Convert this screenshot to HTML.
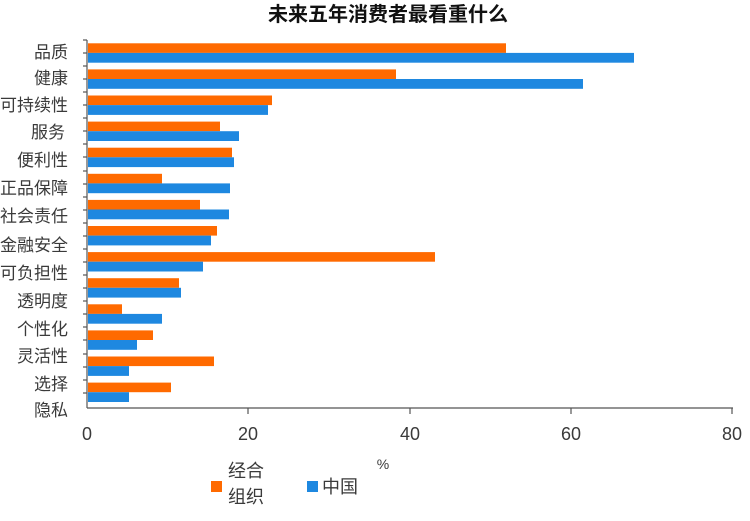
<!DOCTYPE html>
<html><head><meta charset="utf-8"><style>
html,body{margin:0;padding:0;background:#fff;}
svg{display:block;}
text{font-family:"Liberation Sans","Noto Sans CJK SC",sans-serif;fill:#3a3a3a;}
</style></head><body>
<svg width="750" height="521" viewBox="0 0 750 521" xmlns="http://www.w3.org/2000/svg">
<text x="388" y="21" text-anchor="middle" font-size="20" font-weight="bold" style="fill:#111">未来五年消费者最看重什么</text>
<g fill="#FF6A00">
<rect x="88" y="43.3" width="418" height="9.6"/>
<rect x="88" y="69.4" width="308" height="9.6"/>
<rect x="88" y="95.5" width="184" height="9.6"/>
<rect x="88" y="121.6" width="132" height="9.6"/>
<rect x="88" y="147.7" width="144" height="9.6"/>
<rect x="88" y="173.8" width="74" height="9.6"/>
<rect x="88" y="199.9" width="112" height="9.6"/>
<rect x="88" y="226.0" width="129" height="9.6"/>
<rect x="88" y="252.1" width="347" height="9.6"/>
<rect x="88" y="278.2" width="91" height="9.6"/>
<rect x="88" y="304.3" width="34" height="9.6"/>
<rect x="88" y="330.4" width="65" height="9.6"/>
<rect x="88" y="356.5" width="126" height="9.6"/>
<rect x="88" y="382.6" width="83" height="9.6"/>
</g>
<g fill="#1E88E0">
<rect x="88" y="52.9" width="546" height="9.8"/>
<rect x="88" y="79.0" width="495" height="9.8"/>
<rect x="88" y="105.1" width="180" height="9.8"/>
<rect x="88" y="131.2" width="151" height="9.8"/>
<rect x="88" y="157.3" width="146" height="9.8"/>
<rect x="88" y="183.4" width="142" height="9.8"/>
<rect x="88" y="209.5" width="141" height="9.8"/>
<rect x="88" y="235.6" width="123" height="9.8"/>
<rect x="88" y="261.7" width="115" height="9.8"/>
<rect x="88" y="287.8" width="93" height="9.8"/>
<rect x="88" y="313.9" width="74" height="9.8"/>
<rect x="88" y="340.0" width="49" height="9.8"/>
<rect x="88" y="366.1" width="41" height="9.8"/>
<rect x="88" y="392.2" width="41" height="9.8"/>
</g>
<g stroke="#555" stroke-width="1.2" fill="none">
<line x1="87" y1="40" x2="87" y2="408"/>
<line x1="87" y1="408" x2="733" y2="408"/>
<line x1="248" y1="408" x2="248" y2="414"/>
<line x1="410" y1="408" x2="410" y2="414"/>
<line x1="571" y1="408" x2="571" y2="414"/>
<line x1="732" y1="408" x2="732" y2="414"/>
</g>
<g stroke="#555" stroke-width="1.2">
<line x1="83" y1="40" x2="87" y2="40"/><line x1="83" y1="53" x2="87" y2="53"/>
<line x1="83" y1="66" x2="87" y2="66"/><line x1="83" y1="79" x2="87" y2="79"/>
<line x1="83" y1="92" x2="87" y2="92"/><line x1="83" y1="105" x2="87" y2="105"/>
<line x1="83" y1="118" x2="87" y2="118"/><line x1="83" y1="131" x2="87" y2="131"/>
<line x1="83" y1="144" x2="87" y2="144"/><line x1="83" y1="157" x2="87" y2="157"/>
<line x1="83" y1="171" x2="87" y2="171"/><line x1="83" y1="184" x2="87" y2="184"/>
<line x1="83" y1="197" x2="87" y2="197"/><line x1="83" y1="210" x2="87" y2="210"/>
<line x1="83" y1="223" x2="87" y2="223"/><line x1="83" y1="236" x2="87" y2="236"/>
<line x1="83" y1="249" x2="87" y2="249"/><line x1="83" y1="262" x2="87" y2="262"/>
<line x1="83" y1="275" x2="87" y2="275"/><line x1="83" y1="288" x2="87" y2="288"/>
<line x1="83" y1="301" x2="87" y2="301"/><line x1="83" y1="314" x2="87" y2="314"/>
<line x1="83" y1="327" x2="87" y2="327"/><line x1="83" y1="340" x2="87" y2="340"/>
<line x1="83" y1="354" x2="87" y2="354"/><line x1="83" y1="367" x2="87" y2="367"/>
<line x1="83" y1="380" x2="87" y2="380"/><line x1="83" y1="393" x2="87" y2="393"/>
</g>
<g font-size="17" text-anchor="end">
<text x="68" y="58">品质</text>
<text x="68" y="84">健康</text>
<text x="68" y="111">可持续性</text>
<text x="65" y="138">服务</text>
<text x="68" y="166">便利性</text>
<text x="68" y="194">正品保障</text>
<text x="68" y="222">社会责任</text>
<text x="68" y="251">金融安全</text>
<text x="68" y="279">可负担性</text>
<text x="68" y="307">透明度</text>
<text x="68" y="335">个性化</text>
<text x="68" y="362">灵活性</text>
<text x="68" y="390">选择</text>
<text x="68" y="416">隐私</text>
</g>
<g font-size="18" text-anchor="middle">
<text x="87" y="440">0</text>
<text x="248" y="440">20</text>
<text x="410" y="440">40</text>
<text x="571" y="440">60</text>
<text x="732" y="440">80</text>
</g>
<text x="383" y="469" font-size="14" text-anchor="middle">%</text>
<rect x="211" y="481" width="11" height="11" fill="#FF6A00"/>
<text x="228" y="477" font-size="18">经合</text>
<text x="228" y="503" font-size="18">组织</text>
<rect x="307" y="481" width="11" height="11" fill="#1E88E0"/>
<text x="322" y="493" font-size="18">中国</text>
</svg>
</body></html>
